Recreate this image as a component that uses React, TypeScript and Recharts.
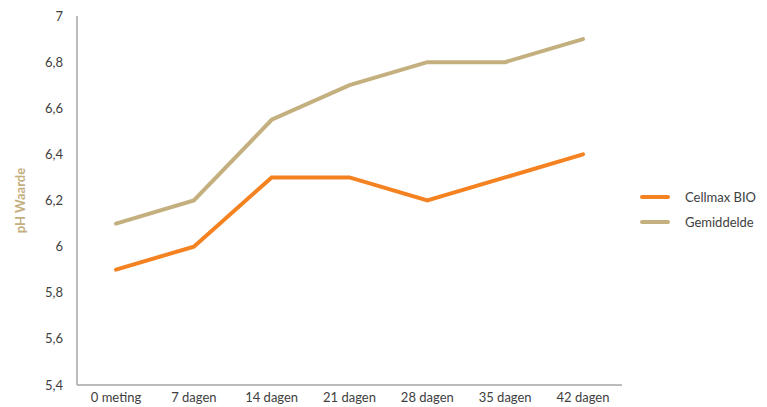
import { CartesianGrid, Legend, Line, LineChart, XAxis, YAxis } from "recharts"

const categories = ["0 meting", "7 dagen", "14 dagen", "21 dagen", "28 dagen", "35 dagen", "42 dagen"]
const cellmaxBio = [5.9, 6.0, 6.3, 6.3, 6.2, 6.3, 6.4]
const gemiddelde = [6.1, 6.2, 6.55, 6.7, 6.8, 6.8, 6.9]
const yTicks = [5.4, 5.6, 5.8, 6, 6.2, 6.4, 6.6, 6.8, 7]

const ORANGE = "#F58220"
const TAN = "#C4AF7F"
const FONT = "Lato, 'Open Sans', sans-serif"

const seriesInfo = [
  { key: "Cellmax BIO", color: ORANGE },
  { key: "Gemiddelde", color: TAN },
]

function LegendContent() {
  return (
    <div style={{ width: 145, paddingTop: 12, fontFamily: FONT, fontSize: 13, color: "#404040" }}>
      {seriesInfo.map((s) => (
        <div key={s.key} style={{ display: "flex", alignItems: "center", height: 25 }}>
          <div style={{ marginLeft: 18, width: 30, height: 4, borderRadius: 2, background: s.color }} />
          <span style={{ marginLeft: 15 }}>{s.key}</span>
        </div>
      ))}
    </div>
  )
}

export default function App() {
  const chartData = categories.map((name, i) => ({
    name,
    "Cellmax BIO": cellmaxBio[i],
    Gemiddelde: gemiddelde[i],
  }))

  return (
    <div style={{ position: "absolute", left: 0, top: 0, background: "#fff" }}>
      <LineChart width={767} height={407} data={chartData} margin={{ top: 16, right: 0, bottom: 0, left: 8 }}>
        <CartesianGrid horizontal={false} vertical={false} />
        <XAxis
          dataKey="name"
          axisLine={{ stroke: "#A6A6A6", strokeWidth: 1.5 }}
          tickLine={false}
          height={22}
          interval={0}
          padding={{ left: 39, right: 39 }}
          tick={{ fill: "#404040", fontSize: 13, fontFamily: FONT }}
        />
        <YAxis
          domain={[5.4, 7]}
          ticks={yTicks}
          width={69}
          axisLine={{ stroke: "#A6A6A6", strokeWidth: 1.5 }}
          tickLine={false}
          tickMargin={8}
          tick={{ fill: "#404040", fontSize: 13, fontFamily: FONT }}
          tickFormatter={(v: number) => String(v).replace(".", ",")}
          label={{
            value: "pH Waarde",
            angle: -90,
            position: "center",
            dx: -22,
            fill: TAN,
            fontSize: 13,
            fontWeight: 700,
            fontFamily: FONT,
          }}
        />
        <Legend layout="vertical" align="right" verticalAlign="middle" content={<LegendContent />} />
        <Line dataKey="Cellmax BIO" stroke={ORANGE} strokeWidth={4} dot={false} isAnimationActive={false} strokeLinecap="round" />
        <Line dataKey="Gemiddelde" stroke={TAN} strokeWidth={4} dot={false} isAnimationActive={false} strokeLinecap="round" />
      </LineChart>
    </div>
  )
}
